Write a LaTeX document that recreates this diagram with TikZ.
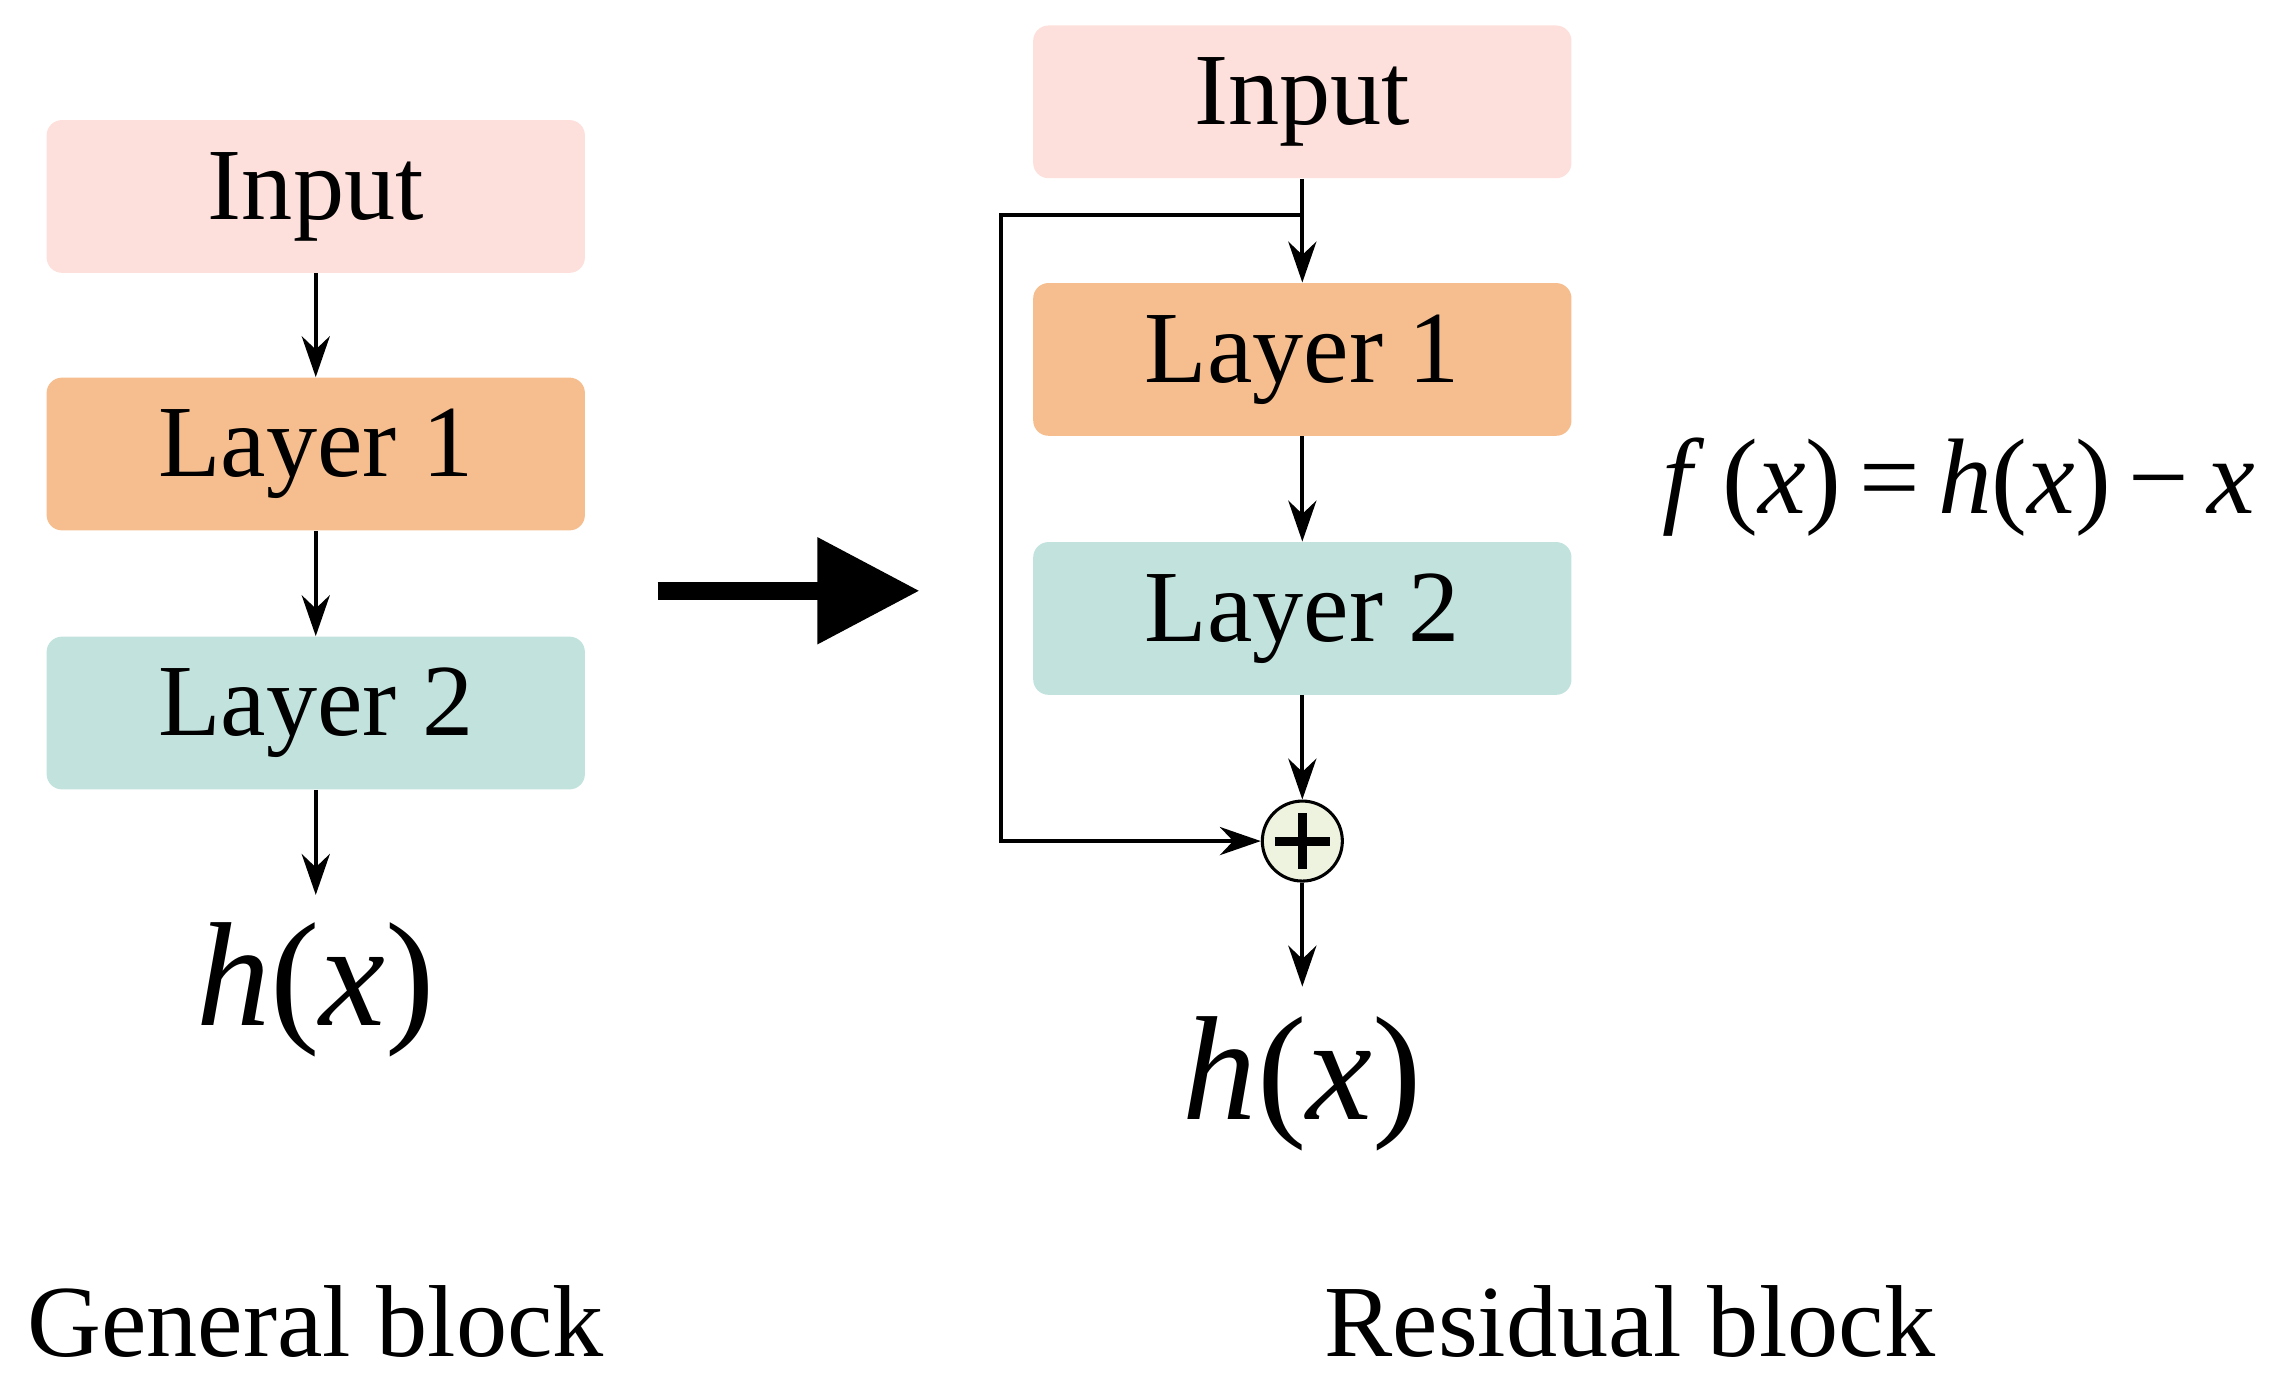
\documentclass[tikz,border=0pt]{standalone}
\usepackage{fontspec}
\setmainfont{Liberation Serif}
\usetikzlibrary{arrows.meta}
\definecolor{cin}{HTML}{FDE0DC}
\definecolor{cl1}{HTML}{F6BE8F}
\definecolor{cl2}{HTML}{C2E3DD}
\definecolor{cplus}{HTML}{EEF3E0}
\begin{document}
\begin{tikzpicture}[x=0.02cm,y=-0.02cm,
 box/.style={draw=none,rounded corners=6pt,minimum width=7.4cm,minimum height=2.1cm,inner sep=0pt,font=\fontsize{40}{46}\selectfont},
 arr/.style={-{Stealth[length=16pt,width=11pt]},line width=1.5pt},
 big/.style={font=\fontsize{58}{66}\selectfont},
 lab/.style={font=\fontsize{40}{46}\selectfont}]
\useasboundingbox (0,0) rectangle (1560,950);
\node[box,fill=cin] (i1) at (217,135) {Input};
\node[box,fill=cl1] (a1) at (217,312) {Layer 1};
\node[box,fill=cl2] (b1) at (217,490) {Layer 2};
\coordinate (e1) at (217,615);
\node[big] (h1) at (217,680) {\textit{h}(\textit{x})};
\draw[arr] (i1) -- (a1);
\draw[arr] (a1) -- (b1);
\draw[arr] (b1) -- (e1);
\coordinate (bs) at (452,406);
\coordinate (be) at (632,406);
\draw[line width=7pt,-{Triangle[length=40pt,width=40pt]}] (bs) -- (be);
\node[box,fill=cin] (i2) at (895,70) {Input};
\node[box,fill=cl1] (a2) at (895,247) {Layer 1};
\node[box,fill=cl2] (b2) at (895,425) {Layer 2};
\node[circle,draw,fill=cplus,line width=1.2pt,minimum size=1.1cm,inner sep=0pt] (p) at (895,578) {};
\draw[line width=3.5pt] ([xshift=-0.38cm]p.center) -- ([xshift=0.38cm]p.center) ([yshift=-0.38cm]p.center) -- ([yshift=0.38cm]p.center);
\coordinate (e2) at (895,678);
\node[big] (h2) at (895,745) {\textit{h}(\textit{x})};
\coordinate (s0) at (895,148);
\coordinate (s1) at (688,148);
\coordinate (s2) at (688,578);
\draw[arr] (i2) -- (a2);
\draw[arr] (a2) -- (b2);
\draw[arr] (b2) -- (p);
\draw[arr] (p) -- (e2);
\draw[arr] (s0) -- (s1) -- (s2) -- (p);
\node[font=\fontsize{42}{48}\selectfont,anchor=east,inner sep=0pt] (f) at (1550,335) {\textit{f}\,(\textit{x})\,=\,\textit{h}(\textit{x})\,−\,\textit{x}};
\node[lab] (g) at (217,908) {General block};
\node[lab] (r) at (1120,908) {Residual block};
\end{tikzpicture}
\end{document}
